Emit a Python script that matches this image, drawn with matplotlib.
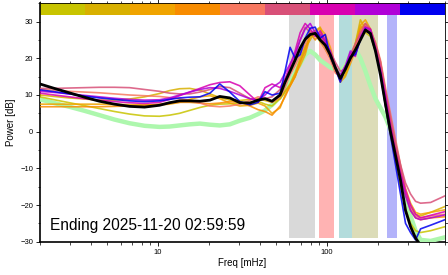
import numpy as np
import matplotlib
matplotlib.use("Agg")
import matplotlib.pyplot as plt
from matplotlib.ticker import LogLocator, NullFormatter, FixedLocator, MultipleLocator

plt.rcParams['font.family'] = ['Liberation Sans', 'DejaVu Sans']

# frequency grid (mHz)
freq = [2.0, 2.43, 2.98, 3.66, 4.50, 5.52, 6.78, 8.32, 10.2, 11.7, 13.4, 15.4, 17.7, 20.3,
        23.2, 26.6, 30.5, 35.0, 39.1, 43.0, 47.3, 52.8, 56.5, 60.5, 64.8, 69.4, 74.3, 79.6,
        85.2, 91.2, 97.7, 104.6, 112, 120, 128.5, 137.6, 147.3, 157.8, 168.9, 180.9, 193.7,
        207.4, 222.1, 237.8, 254.6, 272.6, 291.9, 312.6, 334.7, 358.4, 411, 500]

mean_db = [13.0, 11.8, 10.6, 9.4, 8.3, 7.5, 6.9, 6.7, 7.2, 7.9, 8.4, 8.4, 8.3, 8.6,
           9.6, 9.2, 7.9, 7.8, 8.6, 9.0, 8.3, 10.0, 13.5, 16.5, 19.5, 22.8, 25.2, 26.5,
           26.8, 25.0, 23.6, 21.0, 17.5, 14.5, 17.0, 20.0, 22.3, 25.0, 27.7, 26.8, 22.0,
           15.5, 7.5, 0.0, -6.5, -13.2, -21.5, -25.9, -29.0, -31.0, -32.0, -33.0]

green_db = [8.8, 7.8, 6.8, 5.7, 4.5, 3.3, 2.3, 1.6, 1.3, 1.4, 1.7, 2.0, 2.2, 1.9,
            1.7, 2.0, 3.0, 3.8, 4.8, 5.8, 7.3, 9.5, 11.5, 13.5, 16.0, 18.5, 21.0, 22.0,
            21.0, 19.5, 18.5, 17.5, 17.0, 16.5, 18.0, 21.0, 22.5, 20.0, 16.5, 12.5, 9.0,
            6.5, 4.0, 0.5, -5.0, -11.0, -18.0, -23.0, -27.0, -29.5, -29.8, -28.8]

c1_db = [9.5, 8.7, 7.9, 7.1, 6.3, 5.5, 4.8, 4.3, 4.2, 4.5, 5.0, 5.8, 6.6, 7.2,
         7.5, 7.6, 7.8, 8.0, 8.3, 7.5, 7.0, 9.0, 11.0, 12.5, 15.0, 19.0, 23.0, 26.0,
         26.5, 24.5, 22.5, 20.0, 16.5, 15.0, 16.0, 20.0, 24.0, 29.0, 27.0, 26.0, 22.0,
         16.0, 7.0, -1.0, -8.0, -15.0, -21.0, -25.0, -27.0, -27.5, -27.0, -25.9]
c2_db = [10.0, 9.6, 9.2, 8.9, 8.6, 8.6, 8.9, 9.5, 10.4, 11.2, 11.7, 11.8, 11.3, 10.3,
         9.3, 8.6, 8.5, 8.8, 9.0, 8.5, 8.0, 9.0, 11.0, 13.0, 16.0, 20.0, 23.0, 25.0,
         27.5, 28.5, 24.0, 21.5, 17.5, 14.0, 15.5, 19.0, 24.0, 30.5, 28.0, 27.5, 23.0,
         18.0, 9.0, 1.0, -6.0, -12.0, -17.0, -20.5, -22.5, -23.0, -22.0, -20.4]
c3_db = [7.5, 7.5, 7.5, 7.5, 7.5, 7.4, 7.4, 7.3, 7.3, 7.5, 8.0, 8.8, 9.5, 9.8,
         9.0, 7.8, 7.0, 7.2, 7.8, 7.0, 5.0, 6.5, 10.0, 12.5, 15.5, 18.0, 21.0, 26.0,
         27.0, 28.2, 26.5, 23.0, 18.0, 13.5, 15.0, 18.5, 22.0, 29.0, 30.5, 28.0, 24.0,
         19.0, 11.0, 3.0, -4.0, -10.0, -15.5, -19.5, -22.0, -22.5, -22.0, -21.3]
c4_db = [6.8, 6.8, 6.8, 6.8, 6.8, 6.9, 7.0, 7.2, 7.5, 7.8, 8.0, 8.0, 7.8, 7.6,
         7.8, 8.2, 8.0, 7.0, 6.0, 5.5, 4.5, 7.0, 9.5, 12.5, 15.0, 19.0, 22.0, 27.0,
         25.0, 27.0, 24.0, 21.0, 16.5, 14.5, 17.0, 19.5, 23.0, 28.0, 29.5, 27.0, 23.0,
         17.5, 10.0, 2.0, -5.0, -11.0, -17.0, -21.5, -23.5, -24.0, -23.5, -23.2]
c5_db = [11.5, 11.3, 11.0, 10.8, 10.6, 10.3, 10.0, 9.8, 9.6, 9.3, 9.0, 8.5, 7.8, 7.0,
         6.8, 7.0, 7.5, 8.5, 9.5, 9.0, 8.0, 9.5, 12.0, 15.5, 18.0, 21.0, 24.0, 27.5,
         26.0, 25.0, 22.5, 20.0, 16.0, 15.0, 18.0, 19.0, 23.0, 27.0, 29.0, 27.0, 24.5,
         19.5, 12.0, 5.0, -2.0, -9.0, -16.0, -21.0, -23.0, -23.5, -23.0, -22.5]
c6_db = [11.8, 11.8, 11.9, 12.0, 12.1, 12.1, 12.0, 11.5, 11.0, 10.5, 10.3, 10.3, 10.8, 11.5,
         12.3, 12.0, 10.5, 9.0, 8.5, 9.0, 9.5, 11.5, 14.0, 17.0, 21.0, 25.0, 28.5, 27.0,
         27.5, 26.0, 24.0, 22.0, 19.0, 16.5, 17.0, 21.0, 24.0, 27.0, 29.5, 28.0, 24.0,
         19.0, 11.0, 4.0, -3.0, -9.0, -14.0, -17.0, -19.0, -19.5, -19.3, -17.5]
c7_db = [10.5, 10.0, 9.5, 9.0, 8.6, 8.2, 7.9, 7.7, 8.0, 8.8, 9.8, 10.8, 11.8, 12.8,
         13.4, 13.6, 12.5, 10.0, 8.0, 12.0, 13.0, 12.0, 14.5, 18.0, 22.0, 27.0, 29.5, 28.0,
         26.0, 27.5, 25.0, 21.0, 18.0, 14.0, 17.0, 21.5, 20.5, 26.0, 28.5, 28.0, 23.0,
         17.0, 10.0, 2.0, -5.0, -11.0, -16.0, -20.0, -22.5, -23.5, -22.8, -21.8]
c8_db = [11.0, 10.7, 10.3, 9.9, 9.5, 9.1, 8.8, 8.6, 8.7, 9.2, 10.0, 10.8, 11.5, 12.0,
         11.8, 11.0, 10.0, 9.0, 8.5, 10.0, 12.0, 13.5, 16.0, 18.5, 21.0, 25.0, 28.0, 29.5,
         27.0, 26.5, 24.5, 22.0, 17.5, 15.5, 18.0, 22.0, 21.0, 25.5, 28.5, 27.5, 22.5,
         16.5, 9.0, 1.0, -6.0, -12.0, -17.5, -21.5, -23.5, -24.0, -23.5, -22.7]
c9_db = [11.4, 10.9, 10.3, 9.7, 9.2, 8.8, 8.4, 8.2, 8.4, 8.8, 9.2, 9.4, 9.5, 10.5,
         13.0, 10.8, 8.2, 7.3, 8.0, 10.9, 10.0, 10.5, 16.5, 23.0, 20.0, 21.0, 25.5, 28.2,
         28.5, 25.5, 26.5, 20.5, 17.3, 13.5, 17.5, 20.5, 21.0, 25.0, 28.0, 26.5, 22.0,
         16.0, 7.0, -1.0, -9.0, -17.0, -25.0, -27.5, -29.5, -26.5, -25.5, -24.0]

series_colors = ['#c8c400', '#d8b000', '#f0a400', '#f88c00', '#f87860',
                 '#d85078', '#d800b0', '#b000d8', '#0000f0']
series = [c1_db, c2_db, c3_db, c4_db, c5_db, c6_db, c7_db, c8_db, c9_db]

# shaded bands (mHz)
band_lo = [60, 90, 118, 140, 228]
band_hi = [85, 110, 140, 200, 260]
band_colors = ['#d9d9d9', '#ffb3b3', '#b3dcdc', '#dcdcb8', '#b3b3fa']

fig = plt.figure(figsize=(4.48, 2.75), dpi=100)
ax = fig.add_axes([40/448, (275-241.7)/275, 405/448, (241.7-3.3)/275])

XMIN, XMAX = 2.0, 500.0
YMIN, YMAX = -30, 35
BAND_BOT, BAND_TOP = -29.0, 31.8

for lo, hi, c in zip(band_lo, band_hi, band_colors):
    ax.fill_between([lo, hi], BAND_BOT, BAND_TOP, facecolor=c, edgecolor='none', zorder=1)

# colour bar on top
edges = np.logspace(np.log10(XMIN), np.log10(XMAX), len(series_colors) + 1)
for i, c in enumerate(series_colors):
    ax.fill_between([edges[i], edges[i+1]], BAND_TOP, YMAX, facecolor=c, edgecolor='none', zorder=2)

ax.plot(freq, green_db, color='#adf7ad', lw=3.2, zorder=3, solid_capstyle='round')
for s, c in zip(series, series_colors):
    ax.plot(freq, s, color=c, lw=1.2, alpha=0.85, zorder=4)
ax.plot(freq, mean_db, color='black', lw=2.0, zorder=5)

ax.set_xscale('log')
ax.set_xlim(XMIN, XMAX)
ax.set_ylim(YMIN, YMAX)

ax.xaxis.set_major_locator(FixedLocator([10, 100]))
ax.xaxis.set_major_formatter(matplotlib.ticker.FixedFormatter(['10', '100']))
ax.xaxis.set_minor_locator(LogLocator(base=10, subs=np.arange(2, 10)))
ax.xaxis.set_minor_formatter(NullFormatter())
ax.yaxis.set_major_locator(FixedLocator([-30, -20, -10, 0, 10, 20, 30]))
ax.yaxis.set_minor_locator(MultipleLocator(5))

ax.tick_params(axis='both', which='both', direction='out', top=True, right=True,
               labelsize=5.5, pad=2)
ax.tick_params(which='major', length=3, width=0.6)
ax.tick_params(which='minor', length=1.8, width=0.5)

for side in ['left', 'bottom']:
    ax.spines[side].set_linewidth(1.2)
for side in ['top', 'right']:
    ax.spines[side].set_linewidth(0.6)

ax.set_xlabel('Freq [mHz]', fontsize=7, labelpad=2)
ax.set_ylabel('Power [dB]', fontsize=7, labelpad=3)

ax.text(0.025, 0.05, 'Ending 2025-11-20 02:59:59', transform=ax.transAxes,
        fontsize=11.2, va='baseline', ha='left', zorder=6)

fig.savefig('out.png', dpi=100)
